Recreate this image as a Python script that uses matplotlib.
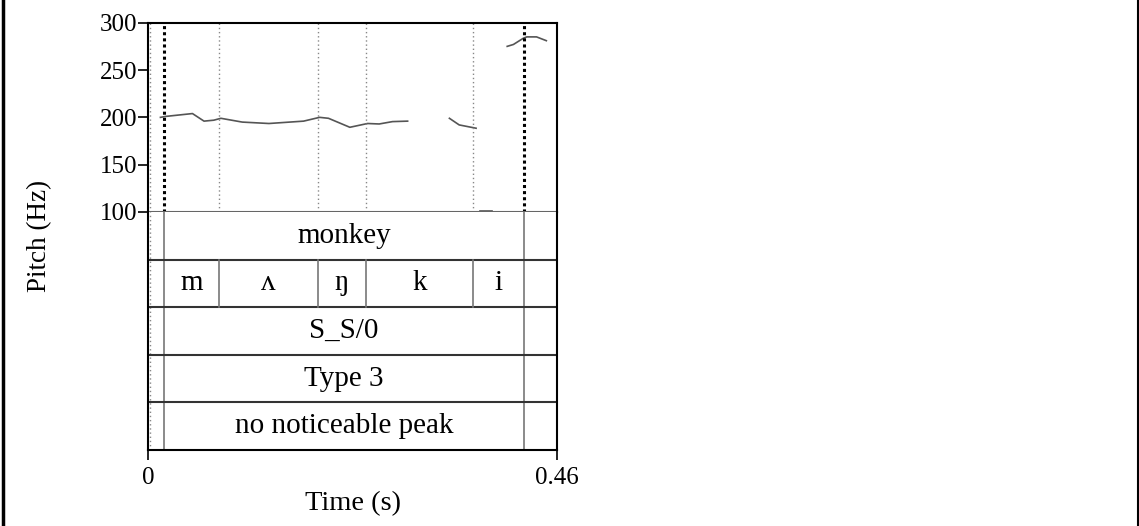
import matplotlib
matplotlib.use("Agg")
import matplotlib.pyplot as plt
from matplotlib.lines import Line2D

plt.rcParams['font.family'] = ['Liberation Serif', 'DejaVu Serif']

# pitch contour pieces (time s, Hz)
seg1_t = [0.014, 0.020, 0.050, 0.063, 0.074, 0.082, 0.106, 0.136, 0.175, 0.193, 0.203, 0.227, 0.247, 0.260, 0.275, 0.292]
seg1_hz = [200, 201, 204, 196, 197, 199, 195, 193.5, 196, 200, 199, 189.5, 193.5, 193, 195.5, 196]
seg2_t = [0.339, 0.350, 0.369]
seg2_hz = [199, 192, 188.5]
seg3_t = [0.373, 0.387]
seg3_hz = [100.8, 100.8]
seg4_t = [0.404, 0.411, 0.422, 0.426, 0.437, 0.448]
seg4_hz = [275, 277, 283.5, 285, 285, 281]

# annotation tiers
word_bounds = [0.018, 0.423]
phone_bounds = [0.018, 0.080, 0.191, 0.245, 0.366, 0.423]
phones = ['m', 'ʌ', 'ŋ', 'k', 'i']
single_tiers = ['monkey', None, 'S_S/0', 'Type 3', 'no noticeable peak']
thin_marks = [0.002, 0.080, 0.191, 0.245, 0.366]
thick_marks = [0.018, 0.423]
t_max = 0.46

W, H = 1139, 526
fig = plt.figure(figsize=(W / 100, H / 100), dpi=100)

left = 148 / W
width = 409 / W
ax_p = fig.add_axes([left, 1 - 212 / H, width, (212 - 22.7) / H])
ax_t = fig.add_axes([left, 1 - 450 / H, width, (450 - 212) / H])

# pitch panel
for tt, hh in [(seg1_t, seg1_hz), (seg2_t, seg2_hz), (seg3_t, seg3_hz), (seg4_t, seg4_hz)]:
    ax_p.plot(tt, hh, color='#555555', lw=1.2)
for x in thin_marks:
    ax_p.axvline(x, color='#888888', lw=1.0, ls=(0, (1, 2)))
for x in thick_marks:
    ax_p.axvline(x, color='black', lw=2.2, ls=(0, (1, 1)))
ax_p.set_xlim(0, t_max)
ax_p.set_ylim(100, 300)
ax_p.set_yticks([100, 150, 200, 250, 300])
ax_p.set_xticks([])
ax_p.tick_params(axis='y', direction='out', length=7, width=1.2, labelsize=18, pad=1)
for s in ax_p.spines.values():
    s.set_linewidth(1.5)
    s.set_color('black')
ax_p.spines['bottom'].set_color('#666666')

# tiers
n = 5
ax_t.set_xlim(0, t_max)
ax_t.set_ylim(0, n)
ax_t.axvline(0.002, color='#888888', lw=1.0, ls=(0, (1, 2)))
for x in word_bounds:
    ax_t.axvline(x, color='#777777', lw=1.2)
for k in range(1, n):
    ax_t.axhline(k, color='#333333', lw=1.5)
for i, label in enumerate(single_tiers):
    yc = n - i - 0.5
    if label is not None:
        ax_t.text((word_bounds[0] + word_bounds[1]) / 2, yc, label,
                  ha='center', va='center', fontsize=21)
    else:
        for b in phone_bounds[1:-1]:
            ax_t.plot([b, b], [yc - 0.5, yc + 0.5], color='#777777', lw=1.2)
        for j, ph in enumerate(phones):
            ax_t.text((phone_bounds[j] + phone_bounds[j + 1]) / 2, yc, ph,
                      ha='center', va='center', fontsize=21)
ax_t.set_yticks([])
ax_t.set_xticks([0, t_max])
ax_t.set_xticklabels(['0', '0.46'])
ax_t.tick_params(axis='x', direction='out', length=7, width=1.2, labelsize=18, pad=5)
for s in ax_t.spines.values():
    s.set_linewidth(1.5)
    s.set_color('black')
ax_t.spines['top'].set_visible(False)

fig.text(40 / W, 1 - 236 / H, 'Pitch (Hz)', rotation=90, ha='center', va='center', fontsize=19.5)
fig.text(353 / W, 1 - 504 / H, 'Time (s)', ha='center', va='center', fontsize=20.5)

# outer frame lines
fig.add_artist(Line2D([2.5 / W, 2.5 / W], [0, 1], color='black', lw=2.5, transform=fig.transFigure))
fig.add_artist(Line2D([1137.5 / W, 1137.5 / W], [0, 1], color='black', lw=1.5, transform=fig.transFigure))

fig.savefig('out.png', dpi=100)
